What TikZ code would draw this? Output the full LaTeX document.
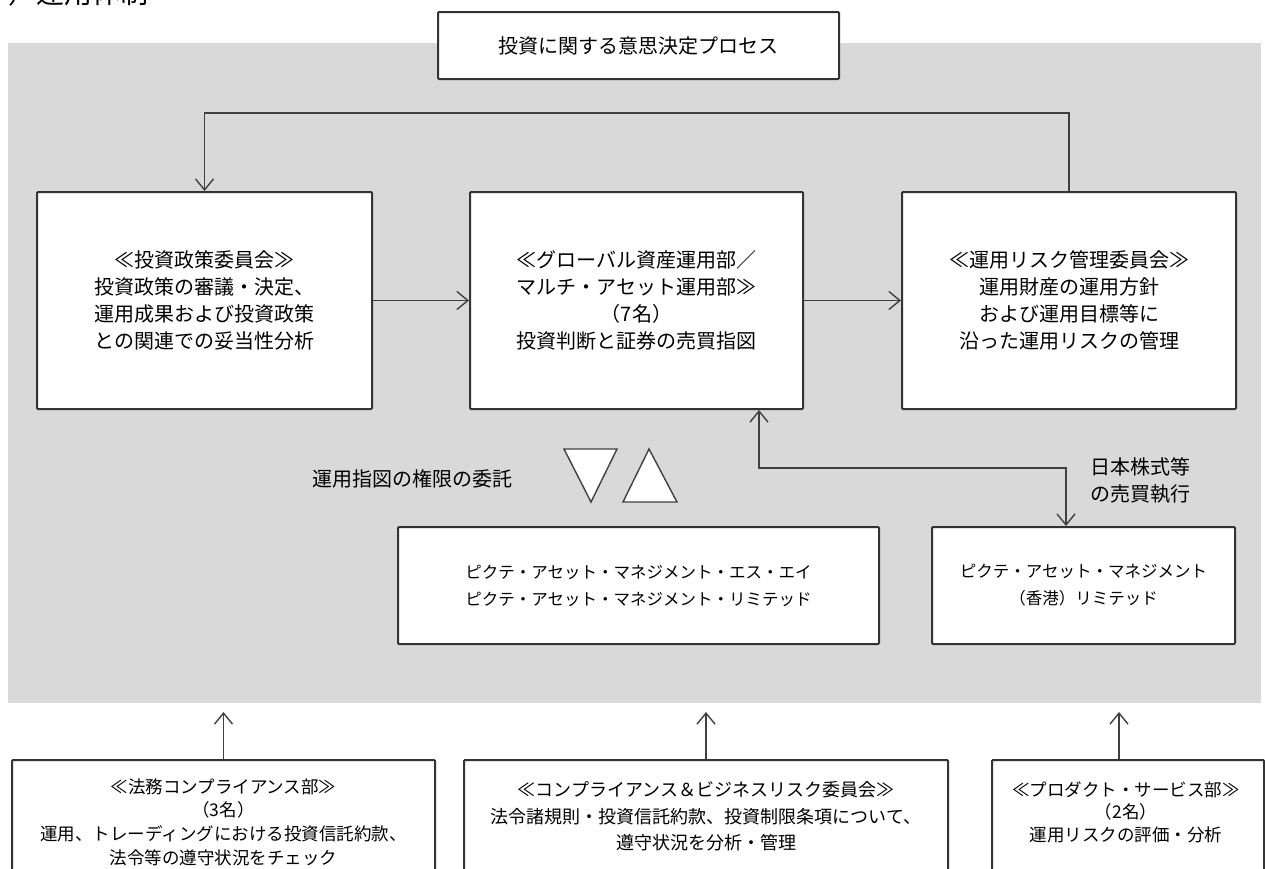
\documentclass[tikz,border=0pt]{standalone}
\usepackage{fontspec}
\setmainfont{Noto Sans CJK JP}
\usetikzlibrary{arrows.meta}
\definecolor{bggray}{HTML}{D9D9D9}
\definecolor{edge}{HTML}{333333}
\definecolor{conn}{HTML}{404040}
\tikzset{
  box/.style={draw=edge, line width=2pt, fill=white, rounded corners=1pt, inner sep=0pt, align=center},
  big/.style={font=\fontsize{20}{27}\selectfont, align=center, text=black},
  mid/.style={font=\fontsize{16.5}{27}\selectfont, align=center, text=black},
  arr/.style={draw=conn, line width=1.4pt, -{Straight Barb[length=11pt,width=18pt]}},
  darr/.style={draw=conn, line width=1.4pt, {Straight Barb[length=11pt,width=18pt]}-{Straight Barb[length=11pt,width=18pt]}},
  tri/.style={draw=conn, line width=1.4pt, fill=white, line join=miter}
}
\begin{document}
\begin{tikzpicture}[x=1pt,y=-1pt]
\useasboundingbox (0,0) rectangle (1265,868);
\clip (0,0) rectangle (1265,868);
\fill[white] (0,0) rectangle (1265,868);
% cut-off heading
\node[anchor=base west, inner sep=0pt, font=\fontsize{28}{30}\selectfont] (head) at (8,3) {）運用体制};
% gray panel
\fill[bggray] (8,43) rectangle (1261,703);
% top title
\node[box, minimum width=401pt, minimum height=67pt, big] (title) at (638.5,45.5) {投資に関する意思決定プロセス};
% three main boxes
\node[box, minimum width=335pt, minimum height=217pt, big] (policy) at (204.5,300.5)
  {≪投資政策委員会≫\\投資政策の審議・決定、\\運用成果および投資政策\\との関連での妥当性分析};
\node[box, minimum width=333pt, minimum height=217pt, big] (global) at (636.5,300.5)
  {≪グローバル資産運用部／\\マルチ・アセット運用部≫\\（7名）\\投資判断と証券の売買指図};
\node[box, minimum width=334pt, minimum height=217pt, big] (risk) at (1069,300.5)
  {≪運用リスク管理委員会≫\\運用財産の運用方針\\および運用目標等に\\沿った運用リスクの管理};
% arrows between main boxes
\draw[arr] (policy.east) -- (global.west);
\draw[arr] (global.east) -- (risk.west);
\coordinate (fbline) at (0,113);
\draw[arr] (risk.north) -- (risk.north |- fbline) -| (policy.north);
% delegation label and triangles
\node[big] (deleg) at (412,479) {運用指図の権限の委託};
\draw[tri] (564,449) -- (617,449) -- (591,502) -- cycle;
\draw[tri] (649,449) -- (677,502) -- (623,502) -- cycle;
% Pictet boxes
\node[box, minimum width=481pt, minimum height=117pt, mid] (pictet) at (638.5,585.5)
  {ピクテ・アセット・マネジメント・エス・エイ\\ピクテ・アセット・マネジメント・リミテッド};
\node[box, minimum width=303pt, minimum height=117pt, mid] (hk) at (1083.5,585.5)
  {ピクテ・アセット・マネジメント\\（香港）リミテッド};
% execution link
\coordinate (ex1) at (759,468);
\coordinate (ex2) at (1066,468);
\draw[darr] (ex1 |- global.south) -- (ex1) -- (ex2) -- (ex2 |- hk.north);
\node[big] (execlbl) at (1140,481) {日本株式等\\の売買執行};
% bottom boxes (cut by the page edge)
\node[box, minimum width=423pt, minimum height=160pt] (legal) at (223.5,840) {};
\node[box, minimum width=484pt, minimum height=160pt] (comp) at (706,840) {};
\node[box, minimum width=272pt, minimum height=160pt] (prod) at (1128,840) {};
\node[font=\fontsize{17.5}{23.7}\selectfont, align=center] (legalT) at (223.5,822)
  {≪法務コンプライアンス部≫\\（3名）\\運用、トレーディングにおける投資信託約款、\\法令等の遵守状況をチェック};
\node[font=\fontsize{18}{26.5}\selectfont, align=center] (compT) at (706,816.5)
  {≪コンプライアンス＆ビジネスリスク委員会≫\\法令諸規則・投資信託約款、投資制限条項について、\\遵守状況を分析・管理};
\node[font=\fontsize{17.5}{22.5}\selectfont, align=center] (prodT) at (1126,812)
  {≪プロダクト・サービス部≫\\（2名）\\運用リスクの評価・分析};
% upward arrows to panel
\coordinate (up1) at (223.5,712);
\coordinate (up2) at (706,712);
\coordinate (up3) at (1119,712);
\draw[arr] (legal.north) -- (up1);
\draw[arr] (comp.north) -- (up2);
\draw[arr] (up3 |- prod.north) -- (up3);
\end{tikzpicture}
\end{document}
